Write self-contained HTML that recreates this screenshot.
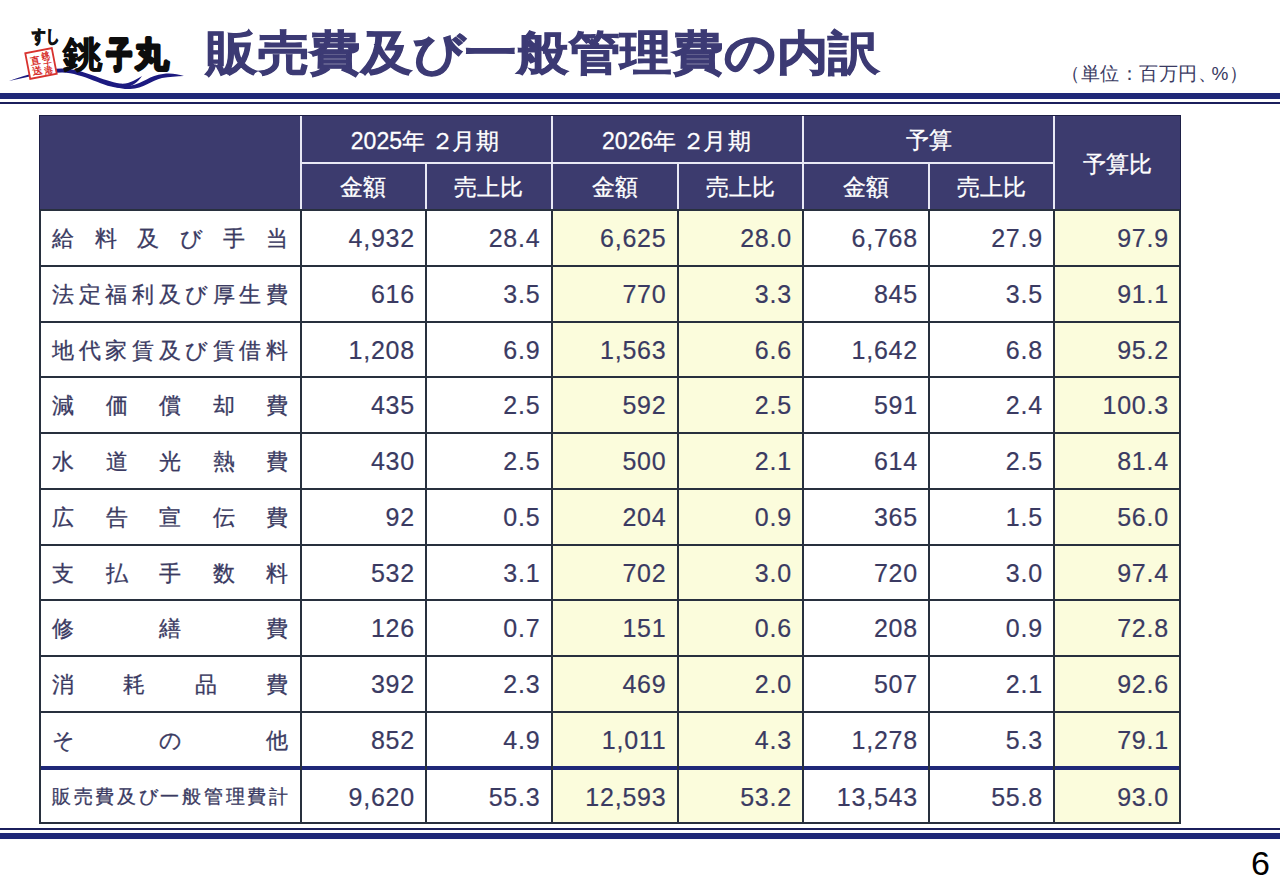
<!DOCTYPE html>
<html lang="ja"><head><meta charset="utf-8">
<style>
*{margin:0;padding:0;box-sizing:border-box}
html,body{width:1280px;height:886px;overflow:hidden;background:#fff}
body{position:relative;font-family:"Liberation Sans",sans-serif;color:#3a3a62}
.a{position:absolute}
.hl{position:absolute;left:0;width:1280px}
.title{position:absolute;left:206px;top:21px;font-size:52px;font-weight:bold;color:#3c3a74;white-space:nowrap;line-height:70px;transform:scale(0.994,0.91);transform-origin:0 0;-webkit-text-stroke:1.1px #3c3a74}
.unit{position:absolute;left:1061px;top:61px;font-size:19px;letter-spacing:0.5px;color:#3a3a62;white-space:nowrap;line-height:26px}
.hd{position:absolute;color:#fff;font-size:23px;-webkit-text-stroke:0.3px #fff;text-align:center;white-space:nowrap}
.lab{position:absolute;font-size:22px;-webkit-text-stroke:0.3px #3a3a62;white-space:nowrap;display:flex;justify-content:space-between}
.num{position:absolute;font-size:25px;-webkit-text-stroke:0.2px #3a3a62;text-align:right;white-space:nowrap;letter-spacing:0.8px}
.pg{position:absolute;left:1251px;top:845px;font-size:34px;color:#000;line-height:36px}
</style></head><body>

<div class="hl" style="top:93px;height:6px;background:#1f2878"></div>
<div class="hl" style="top:102px;height:2px;background:#1b1f5c"></div>
<div class="hl" style="top:828px;height:2px;background:#1b1f5c"></div>
<div class="hl" style="top:833px;height:6px;background:#1f2878"></div>

<svg class="a" style="left:0;top:0" width="200" height="95" viewBox="0 0 200 95">
<path fill="#1c1a80" d="M9,81 C28,74.5 46,68.5 62,68.5 C82,68.5 104,81.5 120,83.5 C129,84.5 136,79.5 142,76 C138,82 131,88 121,88 C104,88 84,73 62,72.5 C45,72.5 28,77 9,81 Z"/>
<path fill="#1c1a80" d="M106,83.5 C113,86 122,87 131,85.5 C143,83.5 150,75 163,74 C171,73 177,74 184,76 C177,76.5 169,76.5 162,78 C151,80.5 144,88.5 130,89 C121,89.5 113,86.5 106,83.5 Z"/>
<g transform="rotate(-11 41 63.5)">
<rect x="27.5" y="50.5" width="27" height="26" fill="#fff" stroke="#d8322e" stroke-width="1.8"/>
<text x="47.5" y="59.5" font-size="8.5" fill="#d8322e" font-weight="bold" text-anchor="middle" style="font-family:'Liberation Sans',sans-serif">銚</text>
<text x="47.5" y="67" font-size="8.5" fill="#d8322e" font-weight="bold" text-anchor="middle" style="font-family:'Liberation Sans',sans-serif">子</text>
<text x="47.5" y="74.5" font-size="8.5" fill="#d8322e" font-weight="bold" text-anchor="middle" style="font-family:'Liberation Sans',sans-serif">港</text>
<text x="35.5" y="62.5" font-size="10" fill="#d8322e" font-weight="bold" text-anchor="middle" style="font-family:'Liberation Sans',sans-serif">直</text>
<text x="35.5" y="73.5" font-size="10" fill="#d8322e" font-weight="bold" text-anchor="middle" style="font-family:'Liberation Sans',sans-serif">送</text>
</g>
<text x="32" y="42" font-size="17" font-weight="bold" fill="#111" stroke="#111" stroke-width="1.2" textLength="27" lengthAdjust="spacingAndGlyphs" style="font-family:'Liberation Sans',sans-serif">すし</text>
<g fill="#0d0d0d" stroke="#0d0d0d" stroke-linejoin="round" font-weight="bold" style="font-family:'Liberation Sans',sans-serif">
<text font-size="100" stroke-width="2" transform="translate(62.8 66.5) scale(0.408 0.372)">銚</text>
<text font-size="100" stroke-width="11" transform="translate(107.2 66.8) scale(0.25 0.35)">子</text>
<text font-size="100" stroke-width="9" transform="translate(134.5 65.7) scale(0.335 0.336)">丸</text>
</g>
</svg>

<div class="title">販売費及び一般管理費の内訳</div>
<div class="unit">（単位：百万円<span style="letter-spacing:-5px">、</span>%）</div>
<div class="a" style="left:39px;top:115px;width:1142px;height:95px;background:#3c3b6e;border:1px solid #1e2046"></div>
<div class="a" style="left:551.5px;top:210.1px;width:126.0px;height:612.9px;background:#fbfcdc"></div>
<div class="a" style="left:677.5px;top:210.1px;width:125.5px;height:612.9px;background:#fbfcdc"></div>
<div class="a" style="left:1054px;top:210.1px;width:126px;height:612.9px;background:#fbfcdc"></div>
<div class="a" style="left:299.5px;top:116px;width:2px;height:93.5px;background:#e8e8f4"></div>
<div class="a" style="left:550.5px;top:116px;width:2px;height:93.5px;background:#e8e8f4"></div>
<div class="a" style="left:802.0px;top:116px;width:2px;height:93.5px;background:#e8e8f4"></div>
<div class="a" style="left:1053.0px;top:116px;width:2px;height:93.5px;background:#e8e8f4"></div>
<div class="a" style="left:425.0px;top:163px;width:2px;height:46.5px;background:#e8e8f4"></div>
<div class="a" style="left:676.5px;top:163px;width:2px;height:46.5px;background:#e8e8f4"></div>
<div class="a" style="left:928.0px;top:163px;width:2px;height:46.5px;background:#e8e8f4"></div>
<div class="a" style="left:300.5px;top:162.0px;width:753.5px;height:2px;background:#e8e8f4"></div>
<div class="a" style="left:40px;top:209.1px;width:1140px;height:2px;background:#28303e"></div>
<div class="a" style="left:40px;top:264.87px;width:1140px;height:2px;background:#28303e"></div>
<div class="a" style="left:40px;top:320.64px;width:1140px;height:2px;background:#28303e"></div>
<div class="a" style="left:40px;top:376.40999999999997px;width:1140px;height:2px;background:#28303e"></div>
<div class="a" style="left:40px;top:432.18px;width:1140px;height:2px;background:#28303e"></div>
<div class="a" style="left:40px;top:487.95000000000005px;width:1140px;height:2px;background:#28303e"></div>
<div class="a" style="left:40px;top:543.72px;width:1140px;height:2px;background:#28303e"></div>
<div class="a" style="left:40px;top:599.49px;width:1140px;height:2px;background:#28303e"></div>
<div class="a" style="left:40px;top:655.26px;width:1140px;height:2px;background:#28303e"></div>
<div class="a" style="left:40px;top:711.03px;width:1140px;height:2px;background:#28303e"></div>
<div class="a" style="left:40px;top:765.8000000000001px;width:1140px;height:4px;background:#1f2878"></div>
<div class="a" style="left:40px;top:822.0px;width:1140px;height:2px;background:#28303e"></div>
<div class="a" style="left:39.0px;top:209.5px;width:2px;height:614.0px;background:#28303e"></div>
<div class="a" style="left:299.5px;top:209.5px;width:2px;height:614.0px;background:#28303e"></div>
<div class="a" style="left:425.0px;top:209.5px;width:2px;height:614.0px;background:#28303e"></div>
<div class="a" style="left:550.5px;top:209.5px;width:2px;height:614.0px;background:#28303e"></div>
<div class="a" style="left:676.5px;top:209.5px;width:2px;height:614.0px;background:#28303e"></div>
<div class="a" style="left:802.0px;top:209.5px;width:2px;height:614.0px;background:#28303e"></div>
<div class="a" style="left:928.0px;top:209.5px;width:2px;height:614.0px;background:#28303e"></div>
<div class="a" style="left:1053.0px;top:209.5px;width:2px;height:614.0px;background:#28303e"></div>
<div class="a" style="left:1179.0px;top:209.5px;width:2px;height:614.0px;background:#28303e"></div>
<div class="hd" style="left:300.5px;width:251.0px;top:125px;line-height:32px">2025<span style="letter-spacing:1.8px">年<span style="position:relative;left:4px">２</span>月期</span></div>
<div class="hd" style="left:551.5px;width:251.5px;top:125px;line-height:32px">2026<span style="letter-spacing:1.8px">年<span style="position:relative;left:4px">２</span>月期</span></div>
<div class="hd" style="left:803px;width:251px;top:124px;line-height:32px">予算</div>
<div class="hd" style="left:1054px;width:126px;top:148px;line-height:32px">予算比</div>
<div class="hd" style="left:300.5px;width:125.5px;top:170.5px;line-height:32px">金額</div>
<div class="hd" style="left:551.5px;width:126.0px;top:170.5px;line-height:32px">金額</div>
<div class="hd" style="left:803px;width:126px;top:170.5px;line-height:32px">金額</div>
<div class="hd" style="left:426px;width:125.5px;top:170.5px;line-height:32px">売上比</div>
<div class="hd" style="left:677.5px;width:125.5px;top:170.5px;line-height:32px">売上比</div>
<div class="hd" style="left:929px;width:125px;top:170.5px;line-height:32px">売上比</div>
<div class="lab" style="left:52px;width:236px;top:223.98499999999999px;line-height:30px"><span>給</span><span>料</span><span>及</span><span>び</span><span>手</span><span>当</span></div>
<div class="num" style="left:300.5px;width:114.5px;top:221.98499999999999px;line-height:32px">4,932</div>
<div class="num" style="left:426px;width:114.5px;top:221.98499999999999px;line-height:32px">28.4</div>
<div class="num" style="left:551.5px;width:115.0px;top:221.98499999999999px;line-height:32px">6,625</div>
<div class="num" style="left:677.5px;width:114.5px;top:221.98499999999999px;line-height:32px">28.0</div>
<div class="num" style="left:803px;width:115px;top:221.98499999999999px;line-height:32px">6,768</div>
<div class="num" style="left:929px;width:114px;top:221.98499999999999px;line-height:32px">27.9</div>
<div class="num" style="left:1054px;width:115px;top:221.98499999999999px;line-height:32px">97.9</div>
<div class="lab" style="left:52px;width:236px;top:279.755px;line-height:30px"><span>法</span><span>定</span><span>福</span><span>利</span><span>及</span><span>び</span><span>厚</span><span>生</span><span>費</span></div>
<div class="num" style="left:300.5px;width:114.5px;top:277.755px;line-height:32px">616</div>
<div class="num" style="left:426px;width:114.5px;top:277.755px;line-height:32px">3.5</div>
<div class="num" style="left:551.5px;width:115.0px;top:277.755px;line-height:32px">770</div>
<div class="num" style="left:677.5px;width:114.5px;top:277.755px;line-height:32px">3.3</div>
<div class="num" style="left:803px;width:115px;top:277.755px;line-height:32px">845</div>
<div class="num" style="left:929px;width:114px;top:277.755px;line-height:32px">3.5</div>
<div class="num" style="left:1054px;width:115px;top:277.755px;line-height:32px">91.1</div>
<div class="lab" style="left:52px;width:236px;top:335.525px;line-height:30px"><span>地</span><span>代</span><span>家</span><span>賃</span><span>及</span><span>び</span><span>賃</span><span>借</span><span>料</span></div>
<div class="num" style="left:300.5px;width:114.5px;top:333.525px;line-height:32px">1,208</div>
<div class="num" style="left:426px;width:114.5px;top:333.525px;line-height:32px">6.9</div>
<div class="num" style="left:551.5px;width:115.0px;top:333.525px;line-height:32px">1,563</div>
<div class="num" style="left:677.5px;width:114.5px;top:333.525px;line-height:32px">6.6</div>
<div class="num" style="left:803px;width:115px;top:333.525px;line-height:32px">1,642</div>
<div class="num" style="left:929px;width:114px;top:333.525px;line-height:32px">6.8</div>
<div class="num" style="left:1054px;width:115px;top:333.525px;line-height:32px">95.2</div>
<div class="lab" style="left:52px;width:236px;top:391.295px;line-height:30px"><span>減</span><span>価</span><span>償</span><span>却</span><span>費</span></div>
<div class="num" style="left:300.5px;width:114.5px;top:389.295px;line-height:32px">435</div>
<div class="num" style="left:426px;width:114.5px;top:389.295px;line-height:32px">2.5</div>
<div class="num" style="left:551.5px;width:115.0px;top:389.295px;line-height:32px">592</div>
<div class="num" style="left:677.5px;width:114.5px;top:389.295px;line-height:32px">2.5</div>
<div class="num" style="left:803px;width:115px;top:389.295px;line-height:32px">591</div>
<div class="num" style="left:929px;width:114px;top:389.295px;line-height:32px">2.4</div>
<div class="num" style="left:1054px;width:115px;top:389.295px;line-height:32px">100.3</div>
<div class="lab" style="left:52px;width:236px;top:447.065px;line-height:30px"><span>水</span><span>道</span><span>光</span><span>熱</span><span>費</span></div>
<div class="num" style="left:300.5px;width:114.5px;top:445.065px;line-height:32px">430</div>
<div class="num" style="left:426px;width:114.5px;top:445.065px;line-height:32px">2.5</div>
<div class="num" style="left:551.5px;width:115.0px;top:445.065px;line-height:32px">500</div>
<div class="num" style="left:677.5px;width:114.5px;top:445.065px;line-height:32px">2.1</div>
<div class="num" style="left:803px;width:115px;top:445.065px;line-height:32px">614</div>
<div class="num" style="left:929px;width:114px;top:445.065px;line-height:32px">2.5</div>
<div class="num" style="left:1054px;width:115px;top:445.065px;line-height:32px">81.4</div>
<div class="lab" style="left:52px;width:236px;top:502.83500000000004px;line-height:30px"><span>広</span><span>告</span><span>宣</span><span>伝</span><span>費</span></div>
<div class="num" style="left:300.5px;width:114.5px;top:500.83500000000004px;line-height:32px">92</div>
<div class="num" style="left:426px;width:114.5px;top:500.83500000000004px;line-height:32px">0.5</div>
<div class="num" style="left:551.5px;width:115.0px;top:500.83500000000004px;line-height:32px">204</div>
<div class="num" style="left:677.5px;width:114.5px;top:500.83500000000004px;line-height:32px">0.9</div>
<div class="num" style="left:803px;width:115px;top:500.83500000000004px;line-height:32px">365</div>
<div class="num" style="left:929px;width:114px;top:500.83500000000004px;line-height:32px">1.5</div>
<div class="num" style="left:1054px;width:115px;top:500.83500000000004px;line-height:32px">56.0</div>
<div class="lab" style="left:52px;width:236px;top:558.605px;line-height:30px"><span>支</span><span>払</span><span>手</span><span>数</span><span>料</span></div>
<div class="num" style="left:300.5px;width:114.5px;top:556.605px;line-height:32px">532</div>
<div class="num" style="left:426px;width:114.5px;top:556.605px;line-height:32px">3.1</div>
<div class="num" style="left:551.5px;width:115.0px;top:556.605px;line-height:32px">702</div>
<div class="num" style="left:677.5px;width:114.5px;top:556.605px;line-height:32px">3.0</div>
<div class="num" style="left:803px;width:115px;top:556.605px;line-height:32px">720</div>
<div class="num" style="left:929px;width:114px;top:556.605px;line-height:32px">3.0</div>
<div class="num" style="left:1054px;width:115px;top:556.605px;line-height:32px">97.4</div>
<div class="lab" style="left:52px;width:236px;top:614.375px;line-height:30px"><span>修</span><span>繕</span><span>費</span></div>
<div class="num" style="left:300.5px;width:114.5px;top:612.375px;line-height:32px">126</div>
<div class="num" style="left:426px;width:114.5px;top:612.375px;line-height:32px">0.7</div>
<div class="num" style="left:551.5px;width:115.0px;top:612.375px;line-height:32px">151</div>
<div class="num" style="left:677.5px;width:114.5px;top:612.375px;line-height:32px">0.6</div>
<div class="num" style="left:803px;width:115px;top:612.375px;line-height:32px">208</div>
<div class="num" style="left:929px;width:114px;top:612.375px;line-height:32px">0.9</div>
<div class="num" style="left:1054px;width:115px;top:612.375px;line-height:32px">72.8</div>
<div class="lab" style="left:52px;width:236px;top:670.145px;line-height:30px"><span>消</span><span>耗</span><span>品</span><span>費</span></div>
<div class="num" style="left:300.5px;width:114.5px;top:668.145px;line-height:32px">392</div>
<div class="num" style="left:426px;width:114.5px;top:668.145px;line-height:32px">2.3</div>
<div class="num" style="left:551.5px;width:115.0px;top:668.145px;line-height:32px">469</div>
<div class="num" style="left:677.5px;width:114.5px;top:668.145px;line-height:32px">2.0</div>
<div class="num" style="left:803px;width:115px;top:668.145px;line-height:32px">507</div>
<div class="num" style="left:929px;width:114px;top:668.145px;line-height:32px">2.1</div>
<div class="num" style="left:1054px;width:115px;top:668.145px;line-height:32px">92.6</div>
<div class="lab" style="left:52px;width:236px;top:725.9150000000001px;line-height:30px"><span>そ</span><span>の</span><span>他</span></div>
<div class="num" style="left:300.5px;width:114.5px;top:723.9150000000001px;line-height:32px">852</div>
<div class="num" style="left:426px;width:114.5px;top:723.9150000000001px;line-height:32px">4.9</div>
<div class="num" style="left:551.5px;width:115.0px;top:723.9150000000001px;line-height:32px">1,011</div>
<div class="num" style="left:677.5px;width:114.5px;top:723.9150000000001px;line-height:32px">4.3</div>
<div class="num" style="left:803px;width:115px;top:723.9150000000001px;line-height:32px">1,278</div>
<div class="num" style="left:929px;width:114px;top:723.9150000000001px;line-height:32px">5.3</div>
<div class="num" style="left:1054px;width:115px;top:723.9150000000001px;line-height:32px">79.1</div>
<div class="lab" style="left:52px;width:236px;top:782.6850000000001px;line-height:28px;font-size:19px"><span>販</span><span>売</span><span>費</span><span>及</span><span>び</span><span>一</span><span>般</span><span>管</span><span>理</span><span>費</span><span>計</span></div>
<div class="num" style="left:300.5px;width:114.5px;top:780.6850000000001px;line-height:32px">9,620</div>
<div class="num" style="left:426px;width:114.5px;top:780.6850000000001px;line-height:32px">55.3</div>
<div class="num" style="left:551.5px;width:115.0px;top:780.6850000000001px;line-height:32px">12,593</div>
<div class="num" style="left:677.5px;width:114.5px;top:780.6850000000001px;line-height:32px">53.2</div>
<div class="num" style="left:803px;width:115px;top:780.6850000000001px;line-height:32px">13,543</div>
<div class="num" style="left:929px;width:114px;top:780.6850000000001px;line-height:32px">55.8</div>
<div class="num" style="left:1054px;width:115px;top:780.6850000000001px;line-height:32px">93.0</div>
<div class="pg">6</div>
</body></html>
